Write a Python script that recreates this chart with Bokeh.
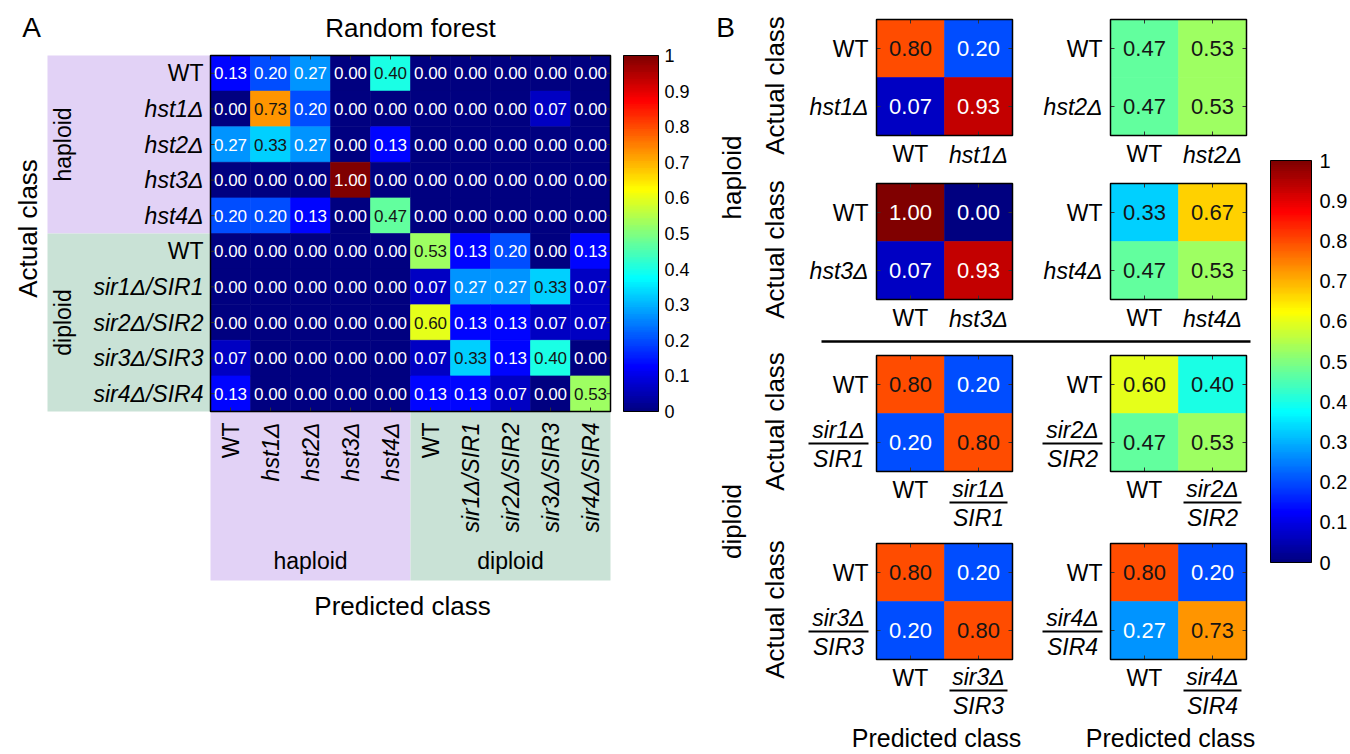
import numpy as np
from bokeh.plotting import figure
from bokeh.models import Range1d, ColumnDataSource, LinearColorMapper
from bokeh.core.properties import value
from bokeh.embed import file_html
from bokeh.resources import INLINE

# ---------------- data ----------------
rf_title = "Random forest"
rf_classes = ["WT", "hst1Δ", "hst2Δ", "hst3Δ", "hst4Δ",
              "WT", "sir1Δ/SIR1", "sir2Δ/SIR2", "sir3Δ/SIR3", "sir4Δ/SIR4"]
rf_groups = ["haploid", "diploid"]
rf_group_size = [5, 5]
rf_matrix = [
    [0.13, 0.20, 0.27, 0.00, 0.40, 0.00, 0.00, 0.00, 0.00, 0.00],
    [0.00, 0.73, 0.20, 0.00, 0.00, 0.00, 0.00, 0.00, 0.07, 0.00],
    [0.27, 0.33, 0.27, 0.00, 0.13, 0.00, 0.00, 0.00, 0.00, 0.00],
    [0.00, 0.00, 0.00, 1.00, 0.00, 0.00, 0.00, 0.00, 0.00, 0.00],
    [0.20, 0.20, 0.13, 0.00, 0.47, 0.00, 0.00, 0.00, 0.00, 0.00],
    [0.00, 0.00, 0.00, 0.00, 0.00, 0.53, 0.13, 0.20, 0.00, 0.13],
    [0.00, 0.00, 0.00, 0.00, 0.00, 0.07, 0.27, 0.27, 0.33, 0.07],
    [0.00, 0.00, 0.00, 0.00, 0.00, 0.60, 0.13, 0.13, 0.07, 0.07],
    [0.07, 0.00, 0.00, 0.00, 0.00, 0.07, 0.33, 0.13, 0.40, 0.00],
    [0.13, 0.00, 0.00, 0.00, 0.00, 0.13, 0.13, 0.07, 0.00, 0.53],
]
pair_mutants = ["hst1Δ", "hst2Δ", "hst3Δ", "hst4Δ",
                "sir1Δ/SIR1", "sir2Δ/SIR2", "sir3Δ/SIR3", "sir4Δ/SIR4"]
pair_matrices = [
    [[0.80, 0.20], [0.07, 0.93]],
    [[0.47, 0.53], [0.47, 0.53]],
    [[1.00, 0.00], [0.07, 0.93]],
    [[0.33, 0.67], [0.47, 0.53]],
    [[0.80, 0.20], [0.20, 0.80]],
    [[0.60, 0.40], [0.47, 0.53]],
    [[0.80, 0.20], [0.20, 0.80]],
    [[0.80, 0.20], [0.27, 0.73]],
]
cbar_ticks = [0.0, 0.1, 0.2, 0.3, 0.4, 0.5, 0.6, 0.7, 0.8, 0.9, 1.0]
cbar_labels = ["0", "0.1", "0.2", "0.3", "0.4", "0.5", "0.6", "0.7", "0.8", "0.9", "1"]

# ---------------- styles / layout ----------------
FONT = "Liberation Sans"
LAVENDER = "#E2D2F6"
MINT = "#C9E2D6"


def jet_palette(n=256):
    t = np.linspace(0, 1, n)
    r = np.clip(1.5 - np.abs(4 * t - 3), 0, 1)
    g = np.clip(1.5 - np.abs(4 * t - 2), 0, 1)
    b = np.clip(1.5 - np.abs(4 * t - 1), 0, 1)
    return ["#%02x%02x%02x" % (int(round(R * 255)), int(round(G * 255)), int(round(B * 255)))
            for R, G, B in zip(r, g, b)]


mapper = LinearColorMapper(palette=jet_palette(256), low=0, high=1)


def text_color(v):
    return "#151515" if 0.3 <= v <= 0.85 else "white"


W, H = 1350, 754
p = figure(width=W, height=H, x_range=Range1d(0, W), y_range=Range1d(H, 0),
           output_backend="svg", toolbar_location=None, min_border=0,
           x_axis_location=None, y_axis_location=None)
p.grid.visible = False
p.outline_line_color = None
p.background_fill_color = "white"
p.border_fill_color = "white"


def txt(x, y, s, size, style="normal", color="black", align="center",
        baseline="middle", angle=0.0, font=FONT):
    p.text(x=[x], y=[y], text=[s], text_font=value(font), text_font_size=f"{size}px",
           text_font_style=style, text_color=color, text_align=align,
           text_baseline=baseline, angle=angle)


def frac(xc, yc, s, size, half_len, gap_up=14, gap_dn=15):
    num, den = s.split("/")
    txt(xc, yc - gap_up, num, size, "italic")
    txt(xc, yc + gap_dn, den, size, "italic")
    p.segment(x0=[xc - half_len], y0=[yc], x1=[xc + half_len], y1=[yc],
              line_color="black", line_width=2)


def heat(x0, y0, cw, ch, M, size):
    M = np.asarray(M, dtype=float)
    nr, nc = M.shape
    ii, jj = np.indices(M.shape)
    v = M.ravel()
    src = ColumnDataSource(dict(
        x=x0 + (jj.ravel() + 0.5) * cw,
        y=y0 + (ii.ravel() + 0.5) * ch,
        v=v,
        label=[f"{a:.2f}" for a in v],
        tc=[text_color(a) for a in v],
    ))
    p.rect("x", "y", width=cw, height=ch, source=src,
           fill_color={"field": "v", "transform": mapper},
           line_color={"field": "v", "transform": mapper}, line_width=0.6)
    p.text("x", "y", text="label", source=src, text_color="tc",
           text_font=value(FONT), text_font_size=f"{size}px",
           text_align="center", text_baseline="middle")
    x1, y1 = x0 + nc * cw, y0 + nr * ch
    # tick marks
    cx = x0 + (np.arange(nc) + 0.5) * cw
    cy = y0 + (np.arange(nr) + 0.5) * ch
    tl = 4
    p.segment(x0=list(cx) * 2, y0=[y1] * nc + [y0] * nc,
              x1=list(cx) * 2, y1=[y1 - tl] * nc + [y0 + tl] * nc,
              line_color="#333333", line_width=1)
    p.segment(x0=[x0] * nr + [x1] * nr, y0=list(cy) * 2,
              x1=[x0 + tl] * nr + [x1 - tl] * nr, y1=list(cy) * 2,
              line_color="#333333", line_width=1)
    p.quad(left=x0, right=x1, top=y0, bottom=y1, fill_color=None,
           line_color="black", line_width=1.5)
    return cx, cy, x1, y1


def colorbar(x0, x1, y0, y1, size, label_x):
    n = 200
    v = (np.arange(n) + 0.5) / n
    h = (y1 - y0) / n
    src = ColumnDataSource(dict(x=np.full(n, (x0 + x1) / 2), y=y1 - v * (y1 - y0), v=v))
    p.rect("x", "y", width=x1 - x0, height=h + 0.8, source=src,
           fill_color={"field": "v", "transform": mapper}, line_color=None)
    p.quad(left=x0, right=x1, top=y0, bottom=y1, fill_color=None,
           line_color="black", line_width=1)
    ty = [y1 - t * (y1 - y0) for t in cbar_ticks]
    p.text(x=[label_x] * len(ty), y=ty, text=cbar_labels, text_font=value(FONT),
           text_font_size=f"{size}px", text_align="left", text_baseline="middle",
           text_color="black")


# ================= Panel A =================
A_X0, A_Y0, A_CW, A_CH = 210, 55, 40, 35.6
nA = len(rf_classes)
A_X1, A_Y1 = A_X0 + nA * A_CW, A_Y0 + nA * A_CH
BAND_L, BAND_B = 47, 580

start = 0
for gname, n, col in zip(rf_groups, rf_group_size, [LAVENDER, MINT]):
    ya, yb = A_Y0 + start * A_CH, A_Y0 + (start + n) * A_CH
    xa, xb = A_X0 + start * A_CW, A_X0 + (start + n) * A_CW
    p.quad(left=BAND_L, right=A_X0, top=ya, bottom=yb, fill_color=col, line_color=None)
    p.quad(left=xa, right=xb, top=A_Y1, bottom=BAND_B, fill_color=col, line_color=None)
    txt(62, (ya + yb) / 2, gname, 23, angle=np.pi / 2)
    txt((xa + xb) / 2, 560, gname, 23)
    start += n

cx, cy, _, _ = heat(A_X0, A_Y0, A_CW, A_CH, rf_matrix, 17)
for k, lab in enumerate(rf_classes):
    st = "normal" if lab == "WT" else "italic"
    txt(A_X0 - 7, cy[k], lab, 23, st, align="right")
    txt(cx[k], A_Y1 + 11, lab, 23, st, align="right", angle=np.pi / 2)

txt(31, 27, "A", 28)
txt((A_X0 + A_X1) / 2, 27, rf_title, 26)
txt(27, 228, "Actual class", 26, angle=np.pi / 2)
txt(402, 605, "Predicted class", 26)
colorbar(623, 658, A_Y0, A_Y1, 18, 664)

# ================= Panel B =================
B_LEFT = [876, 1110]
B_TOP = [19, 183, 355, 543]
B_CW, B_CH = 68, 58

txt(725, 27, "B", 28)
for k, (mut, mat) in enumerate(zip(pair_mutants, pair_matrices)):
    r, c = divmod(k, 2)
    left, top = B_LEFT[c], B_TOP[r]
    bcx, bcy, right, bottom = heat(left, top, B_CW, B_CH, mat, 22)
    # row labels
    txt(left - 8, bcy[0], "WT", 23, align="right")
    txt(bcx[0], bottom + 18, "WT", 23)
    if "/" in mut:
        frac(left - 38, bcy[1] + 1, mut, 23, 30)
        frac(bcx[1], bottom + 31, mut, 23, 29)
    else:
        txt(left - 8, bcy[1], mut, 23, "italic", align="right")
        txt(bcx[1], bottom + 19, mut, 23, "italic")
    if c == 0:
        txt(774, top + B_CH + 8, "Actual class", 26, angle=np.pi / 2)
    if r == 3:
        txt((left + right) / 2 - 8, 737, "Predicted class", 25)

txt(731, 177, "haploid", 26, angle=np.pi / 2)
txt(731, 521, "diploid", 26, angle=np.pi / 2)
p.segment(x0=[821], y0=[341], x1=[1250], y1=[341], line_color="black", line_width=2.5)
colorbar(1270, 1311, 160, 562, 20, 1319)

open("out.html", "w").write(file_html(p, INLINE))
